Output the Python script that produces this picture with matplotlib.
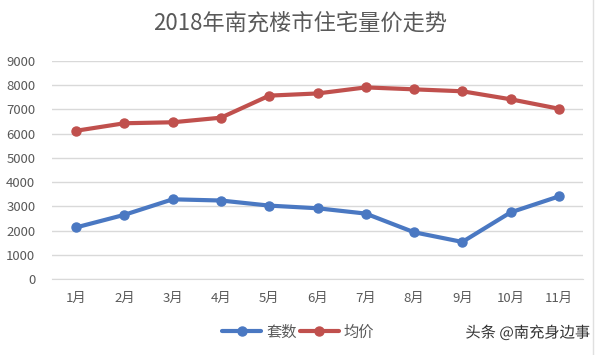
import matplotlib
matplotlib.use("Agg")
import matplotlib.pyplot as plt
import matplotlib.patheffects as pe

plt.rcParams['font.family'] = ['Noto Sans CJK SC', 'DejaVu Sans']

months = ['1月', '2月', '3月', '4月', '5月', '6月', '7月', '8月', '9月', '10月', '11月']
units = [2130, 2650, 3290, 3240, 3030, 2920, 2700, 1930, 1530, 2750, 3410]
avg_price = [6120, 6430, 6470, 6660, 7570, 7660, 7910, 7830, 7750, 7420, 7030]
yticks = [0, 1000, 2000, 3000, 4000, 5000, 6000, 7000, 8000, 9000]

title = '2018年南充楼市住宅量价走势'
series_names = ['套数', '均价']
watermark = '头条 @南充身边事'

blue = '#4a78c2'
red = '#c0504d'
gray = '#595959'

fig = plt.figure(figsize=(6.01, 3.55), dpi=100)
ax = fig.add_axes([52/601, 1-279/355, (583-52)/601, (279-61)/355])

x = list(range(len(months)))
l1, = ax.plot(x, units, color=blue, lw=3, marker='o', ms=6.5, solid_capstyle='round')
l2, = ax.plot(x, avg_price, color=red, lw=3, marker='o', ms=6.5, solid_capstyle='round')

ax.set_xlim(-0.5, len(months) - 0.5)
ax.set_ylim(0, 9000)
ax.set_yticks(yticks)
ax.set_yticklabels([str(v) for v in yticks])
ax.set_xticks(x)
ax.set_xticklabels(months)
ax.grid(axis='y', color='#d9d9d9', lw=1)
ax.set_axisbelow(True)
for s in ['top', 'right', 'left']:
    ax.spines[s].set_visible(False)
ax.spines['bottom'].set_color('#d9d9d9')
ax.tick_params(axis='both', length=0, colors=gray, labelsize=9.5)
ax.tick_params(axis='y', pad=12)
ax.tick_params(axis='x', pad=9)

fig.text(0.5, 1-23/355, title, ha='center', va='center', fontsize=16, color=gray)

fig.legend([l1, l2], series_names, loc='center', bbox_to_anchor=(298/601, 1-332/355),
           ncol=2, frameon=False, fontsize=11, handlelength=2.6, columnspacing=0.2,
           handletextpad=0.3, labelcolor=gray)

fig.text(590/601, 1-333/355, watermark, ha='right', va='center', fontsize=11, color='#333333',
         path_effects=[pe.withStroke(linewidth=2.5, foreground='white')])

fig.add_artist(plt.Line2D([593/601, 593/601], [0, 1], color='#e0e0e0', lw=1, transform=fig.transFigure))

fig.savefig('out.png', dpi=100)
